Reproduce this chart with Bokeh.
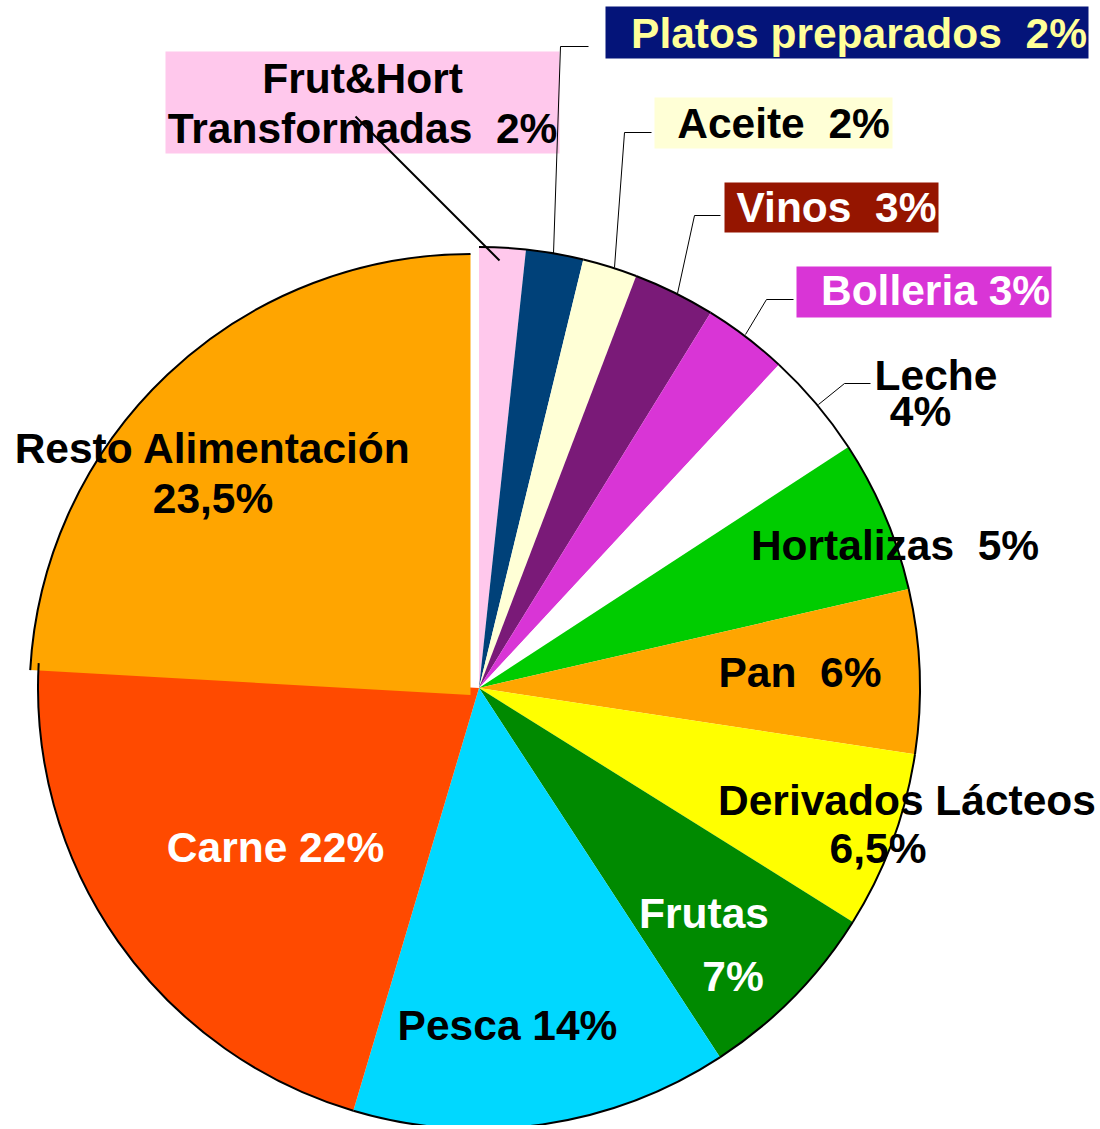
import math
import numpy as np
from bokeh.plotting import figure
from bokeh.models import Range1d, ColumnDataSource
from bokeh.core.properties import value
from bokeh.embed import file_html
from bokeh.resources import INLINE

# ---- data (clockwise from 12 o'clock) ----
categories = ["Frut&Hort Transformadas", "Platos preparados", "Aceite", "Vinos",
              "Bolleria", "Leche", "Hortalizas", "Pan", "Derivados Lácteos",
              "Frutas", "Pesca", "Carne", "Resto Alimentación"]
shares = [1.7, 2.1, 2.0, 3.0, 3.1, 3.9, 5.6, 6.0, 6.5, 6.9, 13.8, 21.3, 24.1]
slice_colors = ["#FFC8EC", "#004179", "#FFFFD6", "#7A1A78", "#D935D6", "#FFFFFF",
                "#00CC00", "#FFA500", "#FFFF00", "#008A00", "#00D8FF", "#FF4A00", "#FFA500"]
exploded = [0, 0, 0, 0, 0, 0, 0, 0, 0, 0, 0, 0, 1]

NB = "\u00a0"
# label texts (one entry per line)
label_lines = ["Frut&Hort", "Transformadas" + NB + " 2%", "Platos preparados" + NB + " 2%",
               "Aceite" + NB + " 2%", "Vinos" + NB + " 3%", "Bolleria 3%", "Leche", "4%",
               "Hortalizas" + NB + " 5%", "Pan" + NB + " 6%", "Derivados Lácteos", "6,5%",
               "Frutas", "7%", "Pesca 14%", "Carne 22%", "Resto Alimentación", "23,5%"]

# ---- layout (screen pixel coordinates of the reference) ----
H = 1129
def Y(sy):
    return H - sy

W_FIG, H_FIG = 1096, 1125
p = figure(width=W_FIG, height=H_FIG, x_range=Range1d(0, W_FIG), y_range=Range1d(H - H_FIG, H),
           output_backend="svg", toolbar_location=None, min_border=0,
           x_axis_type=None, y_axis_type=None)
p.grid.visible = False
p.outline_line_color = None
p.background_fill_color = "white"
p.border_fill_color = "white"

R = 441
main_c = (478.5, Y(687.5))
expl_c = (470.0, Y(694.5))

vals = np.array(shares, dtype=float)
cum = np.cumsum(vals) / vals.sum()
starts = np.concatenate([[0.0], cum[:-1]])
start_angle = math.pi / 2 - 2 * math.pi * cum
end_angle = math.pi / 2 - 2 * math.pi * starts
cx = [expl_c[0] if e else main_c[0] for e in exploded]
cy = [expl_c[1] if e else main_c[1] for e in exploded]

src = ColumnDataSource(dict(x=cx, y=cy, start=start_angle, end=end_angle,
                            color=slice_colors, name=categories))
p.wedge(x="x", y="y", radius=R, start_angle="start", end_angle="end",
        direction="anticlock", fill_color="color", line_color=None, source=src)
p.arc(x="x", y="y", radius=R, start_angle="start", end_angle="end",
      direction="anticlock", line_color="black", line_width=2, source=src)

# label background boxes
boxes = dict(left=[165, 605, 654, 724, 796], right=[559, 1088, 892, 938, 1051],
             top=[Y(51), Y(6), Y(97), Y(182), Y(266)],
             bottom=[Y(153), Y(58), Y(148), Y(232), Y(317)],
             color=["#FFC8EC", "#041479", "#FFFFD6", "#951500", "#D935D6"])
p.quad(left="left", right="right", top="top", bottom="bottom", fill_color="color",
       line_color=None, source=ColumnDataSource(boxes))

# texts (x centre, baseline y in reference pixels)
tx = [362, 362, 858.5, 783, 836, 935, 935.5, 920, 894.5, 799.5, 906.5, 877.5,
      703.5, 732.5, 507, 275, 212.5, 212.5]
ty = [93, 143, 48, 138, 222, 305, 390, 426, 560, 687, 815, 863, 928, 991, 1040, 862, 463, 513]
tc = ["black", "black", "#FFFF99", "black", "white", "white", "black", "black", "black",
      "black", "black", "black", "white", "white", "black", "white", "black", "black"]
BASE_ADJ = 15
tsrc = ColumnDataSource(dict(x=tx, y=[Y(v - BASE_ADJ) for v in ty], text=label_lines, color=tc))
p.text(x="x", y="y", text="text", text_color="color", source=tsrc,
       text_font=value("Liberation Sans"), text_font_style="bold",
       text_font_size=value("42.5px"), text_align="center", text_baseline="alphabetic")

# leader lines
lx = [[355, 499], [588, 560, 553], [651, 624, 614], [720, 694, 677],
      [793, 766, 745], [870, 844, 818]]
ly = [[116, 260], [46, 46, 253], [132, 132, 267], [215, 215, 293],
      [299, 299, 334], [383, 383, 404]]
lsrc = ColumnDataSource(dict(xs=lx, ys=[[Y(v) for v in seg] for seg in ly],
                             w=[2, 1, 1, 1, 1, 1]))
p.multi_line(xs="xs", ys="ys", line_color="black", line_width="w", source=lsrc)

open("out.html", "w").write(file_html(p, INLINE))
